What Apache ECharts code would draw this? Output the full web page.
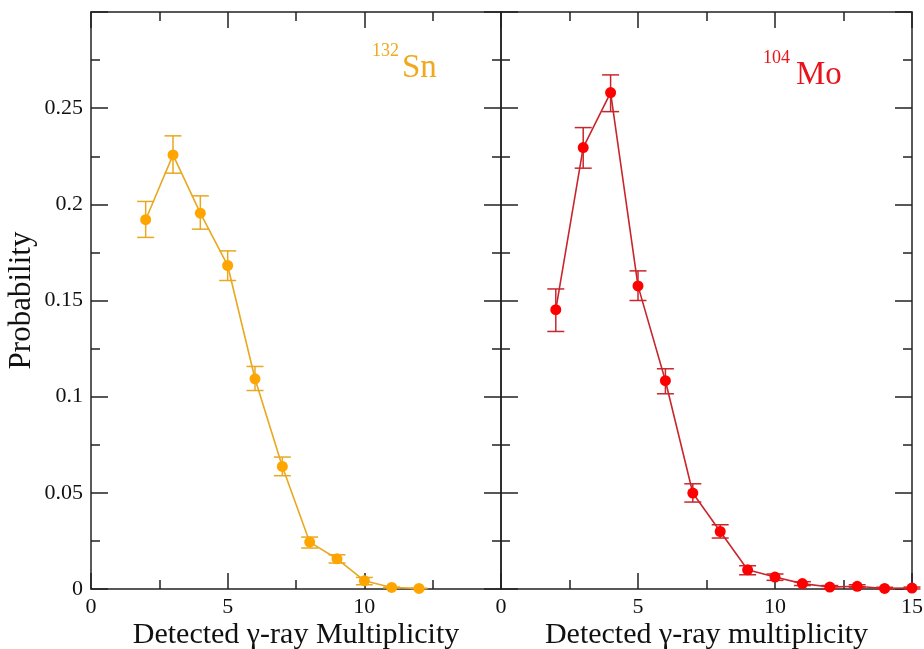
<!DOCTYPE html>
<html>
<head>
<meta charset="utf-8">
<script src="https://cdn.jsdelivr.net/npm/echarts@6/dist/echarts.min.js"></script>
<style>html,body{margin:0;padding:0;background:#fff}#c{width:924px;height:649px}</style>
</head>
<body>
<div id="c"></div>
<script>
// ---- data ----
const snX = [2, 3, 4, 5, 6, 7, 8, 9, 10, 11, 12];
const snVal = [0.192, 0.2257, 0.1954, 0.1682, 0.1093, 0.0637, 0.0244, 0.0157, 0.0043, 0.0008, 0.0003];
const snHi  = [0.2015, 0.2356, 0.2044, 0.1758, 0.1157, 0.0686, 0.0270, 0.0178, 0.0060, 0.0010, 0.0004];
const snLo  = [0.1828, 0.2162, 0.1871, 0.1604, 0.1032, 0.0589, 0.0213, 0.0135, 0.0022, 0.0006, 0.0002];

const moX = [2, 3, 4, 5, 6, 7, 8, 9, 10, 11, 12, 13, 14, 15];
const moVal = [0.1452, 0.2295, 0.2581, 0.1576, 0.1083, 0.0499, 0.0299, 0.0100, 0.0062, 0.0028, 0.0010, 0.0014, 0.0003, 0.0005];
const moHi  = [0.1560, 0.2399, 0.2673, 0.1654, 0.1145, 0.0547, 0.0334, 0.0121, 0.0078, 0.0038, 0.0018, 0.0022, 0.0009, 0.0010];
const moLo  = [0.1339, 0.2188, 0.2482, 0.1500, 0.1015, 0.0452, 0.0265, 0.0074, 0.0045, 0.0018, 0.0002, 0.0006, 0.0000, 0.0000];

const xTicksLeft = [0, 5, 10];
const xTicksRight = [0, 5, 10, 15];
const yTicks = [0, 0.05, 0.1, 0.15, 0.2, 0.25];
const xTitleLeft = 'Detected γ-ray Multiplicity';
const xTitleRight = 'Detected γ-ray multiplicity';
const yTitle = 'Probability';
// ---------------

const FONT = 'Liberation Serif';
const AX = '#222';

function xAxis(grid, pos, ticks, name) {
  return {
    type: 'value', gridIndex: grid, position: pos, min: 0, max: 15, interval: 5,
    axisLine: {show: true, onZero: false, lineStyle: {color: AX, width: 1.5}},
    axisTick: {show: true, inside: true, length: 16, lineStyle: {color: AX, width: 1.5}},
    minorTick: {show: true, splitNumber: 2, length: 9, lineStyle: {color: AX, width: 1.5}},
    splitLine: {show: false},
    axisLabel: {show: !!ticks, color: '#111', fontFamily: FONT, fontSize: 22, margin: 7,
      formatter: v => (ticks && ticks.includes(v)) ? String(v) : ''},
    name: name || '', nameLocation: 'middle', nameGap: 31, nameMoveOverlap: false,
    nameTextStyle: {color: '#111', fontFamily: FONT, fontSize: 30}
  };
}
function yAxis(grid, pos, showLabel, name) {
  return {
    type: 'value', gridIndex: grid, position: pos, min: 0, max: 0.3, interval: 0.05,
    axisLine: {show: true, onZero: false, lineStyle: {color: AX, width: 1.5}},
    axisTick: {show: true, inside: true, length: 17, lineStyle: {color: AX, width: 1.5}},
    minorTick: {show: true, splitNumber: 2, length: 9, lineStyle: {color: AX, width: 1.5}},
    splitLine: {show: false},
    axisLabel: {show: showLabel, color: '#111', fontFamily: FONT, fontSize: 22, margin: 8,
      formatter: v => {
        const f = yTicks.find(t => Math.abs(t - v) < 1e-9);
        return f === undefined ? '' : String(f);
      }},
    name: name || '', nameLocation: 'middle', nameGap: 54, nameMoveOverlap: false,
    nameTextStyle: {color: '#111', fontFamily: FONT, fontSize: 31}
  };
}

function errSeries(xi, yi, xs, lo, hi, color) {
  return {
    type: 'custom', xAxisIndex: xi, yAxisIndex: yi, z: 3,
    data: xs.map((x, i) => [x, lo[i], hi[i]]),
    renderItem: (params, api) => {
      const x = api.value(0);
      const p1 = api.coord([x, api.value(1)]);
      const p2 = api.coord([x, api.value(2)]);
      const w = 8.5;
      const st = {stroke: color, lineWidth: 1.5};
      return {type: 'group', children: [
        {type: 'line', shape: {x1: p1[0], y1: p1[1], x2: p2[0], y2: p2[1]}, style: st},
        {type: 'line', shape: {x1: p1[0] - w, y1: p1[1], x2: p1[0] + w, y2: p1[1]}, style: st},
        {type: 'line', shape: {x1: p2[0] - w, y1: p2[1], x2: p2[0] + w, y2: p2[1]}, style: st}
      ]};
    }
  };
}
function lineSeries(xi, yi, xs, vals, lineColor, dotColor) {
  return {
    type: 'line', xAxisIndex: xi, yAxisIndex: yi, z: 4,
    data: xs.map((x, i) => [x, vals[i]]),
    symbol: 'circle', symbolSize: 11, showSymbol: true,
    lineStyle: {color: lineColor, width: 1.6},
    itemStyle: {color: dotColor, borderWidth: 0},
    animation: false
  };
}

const snLine = '#e8a820', snDot = '#ffa500', snText = '#f0a81c';
const moLine = '#c8262c', moDot = '#ff0000', moText = '#e8141c';

const option = {
  animation: false,
  backgroundColor: '#fff',
  grid: [
    {left: 91, right: 423, top: 12, bottom: 60, containLabel: false, outerBoundsMode: 'none'},
    {left: 501, right: 12, top: 12, bottom: 60, containLabel: false, outerBoundsMode: 'none'}
  ],
  xAxis: [
    xAxis(0, 'bottom', xTicksLeft, xTitleLeft),
    xAxis(0, 'top', null),
    xAxis(1, 'bottom', xTicksRight, xTitleRight),
    xAxis(1, 'top', null)
  ],
  yAxis: [
    yAxis(0, 'left', true, yTitle),
    yAxis(0, 'right', false),
    yAxis(1, 'left', false),
    yAxis(1, 'right', false)
  ],
  graphic: [
    {type: 'text', left: 372, top: 42, style: {text: '132', fontFamily: FONT, fontSize: 18, fill: snText}},
    {type: 'text', left: 402, top: 52, style: {text: 'Sn', fontFamily: FONT, fontSize: 33, fill: snText}},
    {type: 'text', left: 763, top: 49, style: {text: '104', fontFamily: FONT, fontSize: 18, fill: moText}},
    {type: 'text', left: 796, top: 59, style: {text: 'Mo', fontFamily: FONT, fontSize: 33, fill: moText}}
  ],
  series: [
    errSeries(0, 0, snX, snLo, snHi, snLine),
    lineSeries(0, 0, snX, snVal, snLine, snDot),
    errSeries(2, 2, moX, moLo, moHi, moLine),
    lineSeries(2, 2, moX, moVal, moLine, moDot)
  ]
};

const chart = echarts.init(document.getElementById('c'));
chart.setOption(option);
</script>
</body>
</html>
